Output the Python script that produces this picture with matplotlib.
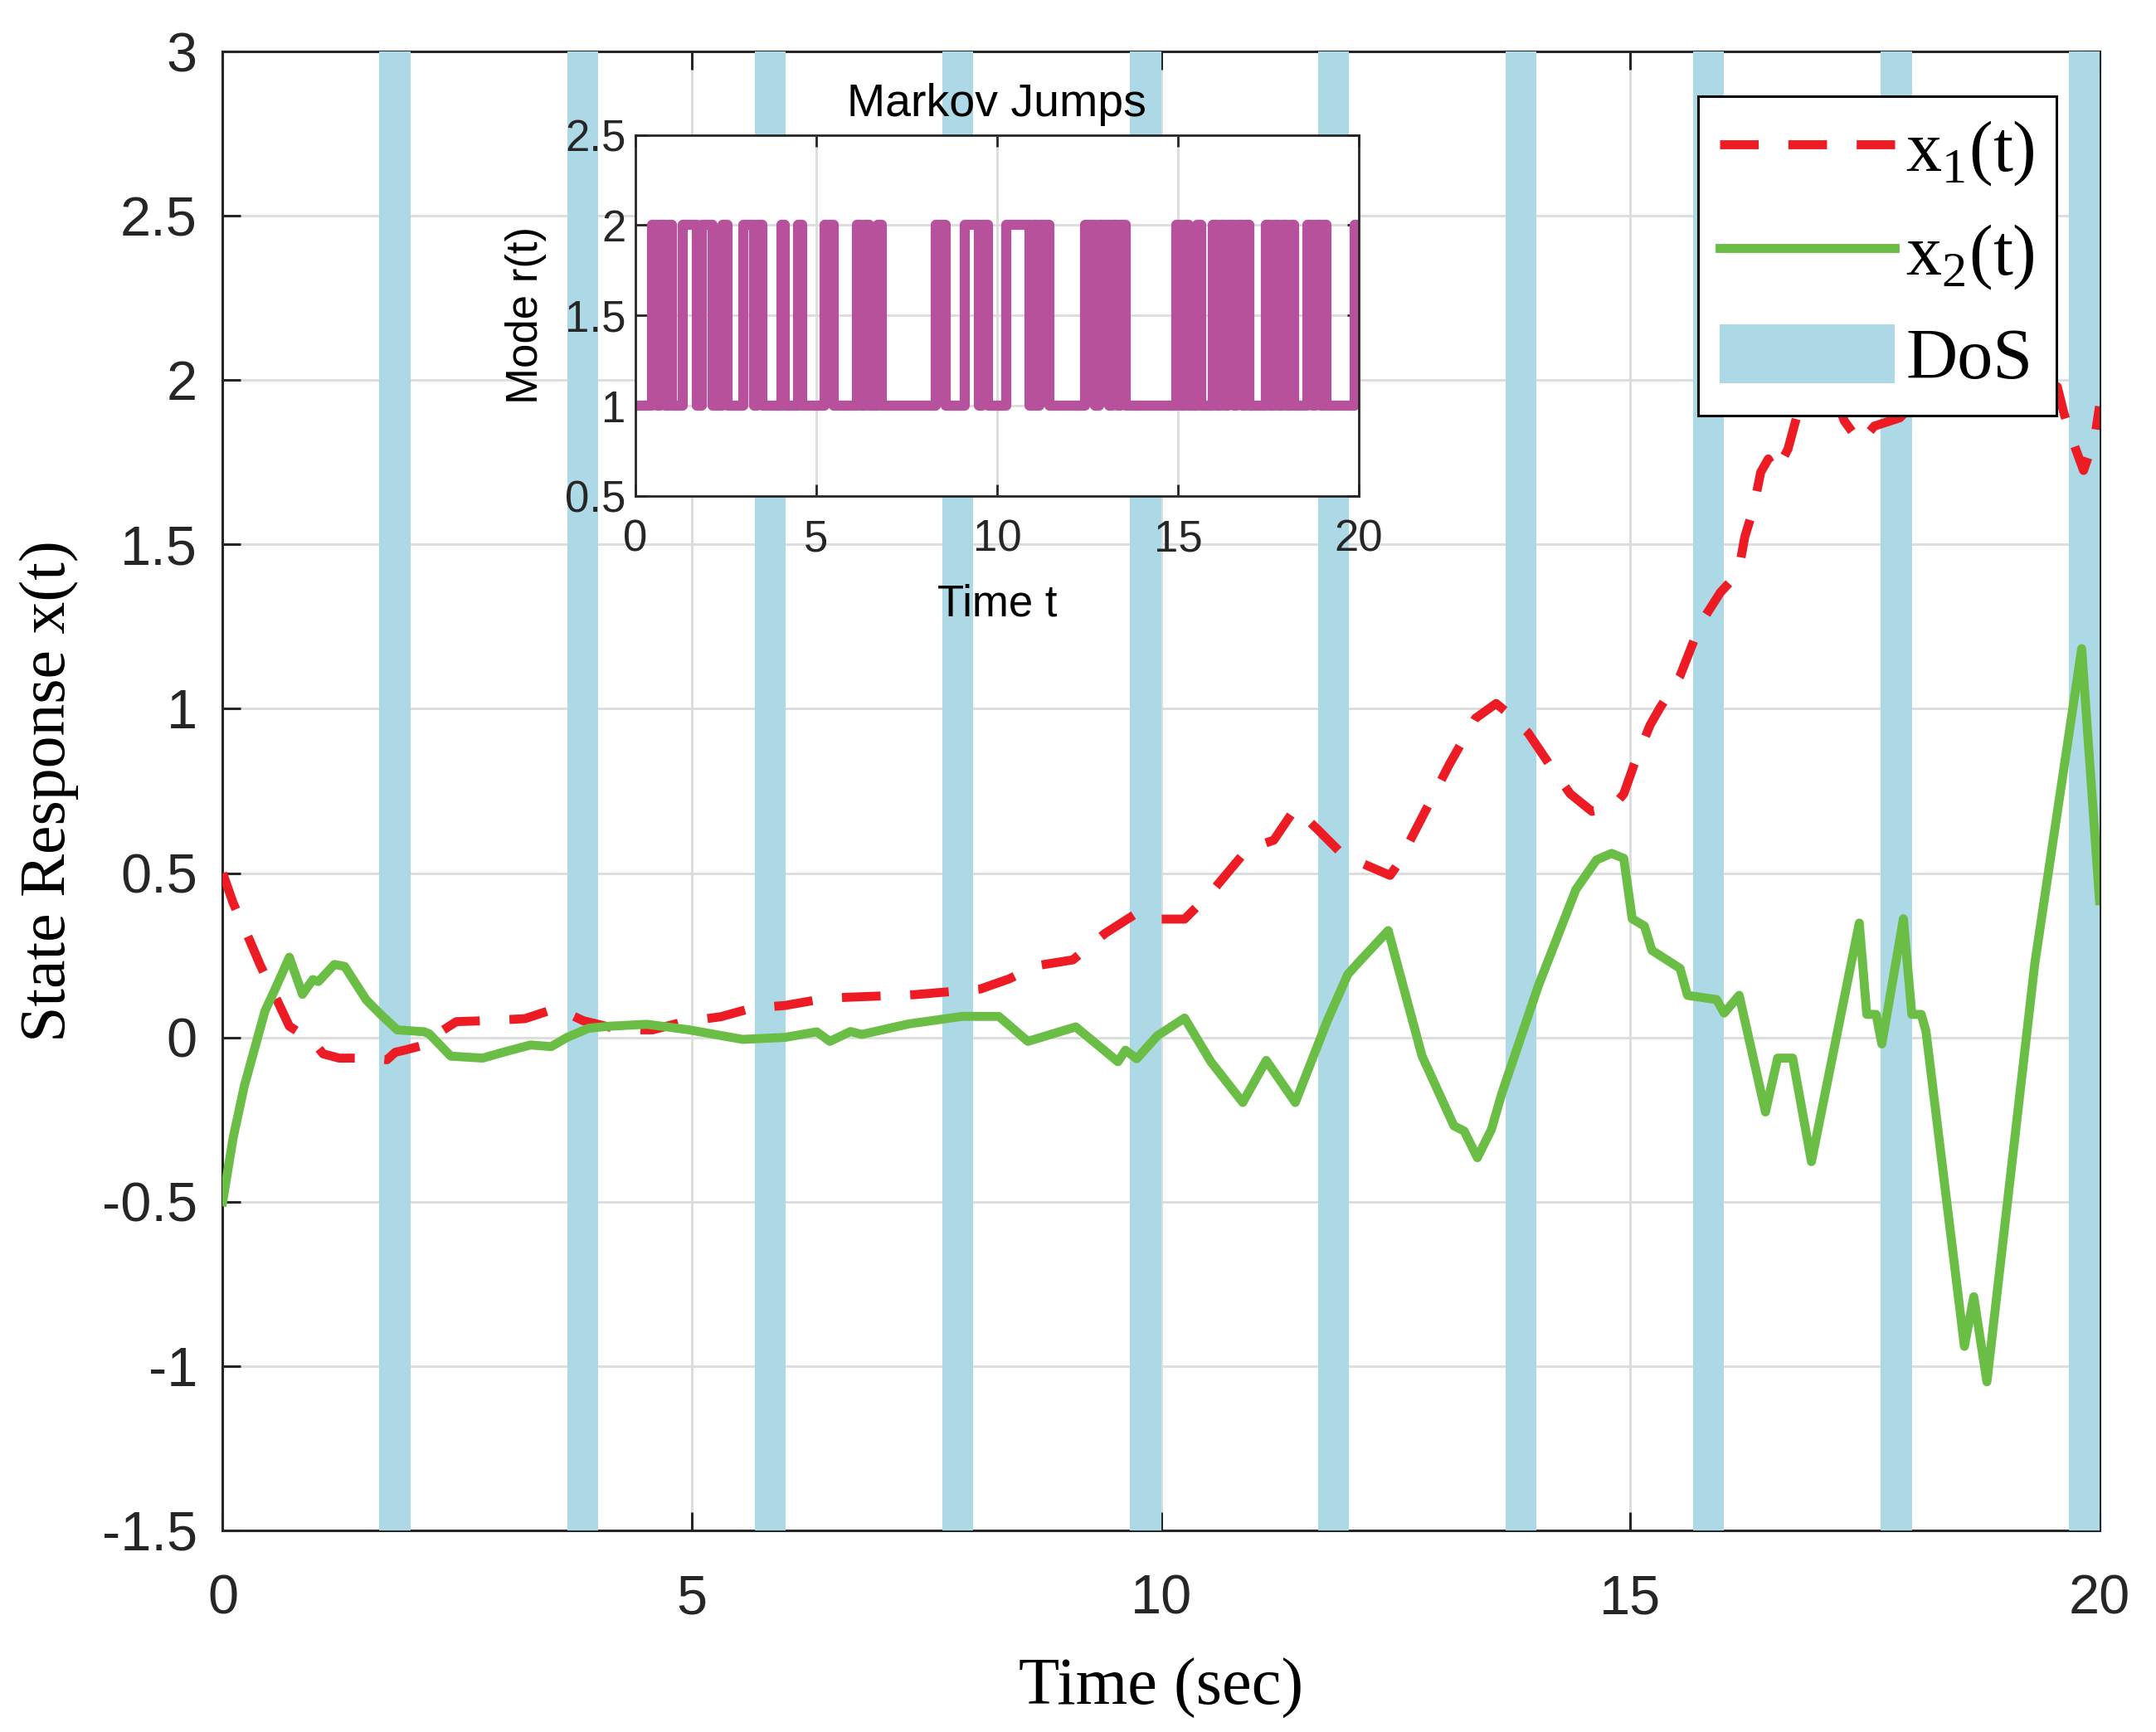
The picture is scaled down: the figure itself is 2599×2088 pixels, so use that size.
import matplotlib
matplotlib.use('Agg')
import matplotlib.pyplot as plt
from matplotlib.lines import Line2D
from matplotlib.patches import Patch
from matplotlib.ticker import FuncFormatter
import numpy as np

# state x1(t)
t_x1 = [0, 0.11, 0.28, 0.40, 0.56, 0.71, 0.96, 1.07, 1.24, 1.58, 1.75, 1.84, 1.92,
        2.15, 2.32, 2.49, 2.82, 3.22, 3.56, 3.84, 4.24, 4.58, 4.92, 5.31, 5.65,
        5.99, 6.33, 6.47, 7.37, 8.07, 8.38, 8.67, 9.06, 9.40, 9.74, 9.94, 10.25,
        10.53, 10.92, 11.20, 11.43, 11.66, 11.94, 12.22, 12.44, 12.53, 12.67,
        13.07, 13.35, 13.57, 13.68, 13.91, 14.14, 14.36, 14.59, 14.81, 14.93,
        15.04, 15.21, 15.31, 15.53, 15.75, 15.96, 16.15, 16.22, 16.31, 16.39,
        16.47, 16.55, 16.68, 16.77, 16.90, 17.05, 17.15, 17.28, 17.45, 17.60,
        17.87, 18.10, 18.50, 19.00, 19.30, 19.55, 19.62, 19.70, 19.83, 19.95, 20.0]
x1 = [0.50, 0.41, 0.30, 0.22, 0.125, 0.034, -0.011, -0.05, -0.063, -0.063, -0.068,
      -0.045, -0.04, -0.023, 0.017, 0.048, 0.051, 0.057, 0.089, 0.051, 0.023,
      0.023, 0.048, 0.063, 0.09, 0.097, 0.114, 0.12, 0.13, 0.147, 0.178, 0.218,
      0.236, 0.316, 0.378, 0.36, 0.36, 0.44, 0.573, 0.60, 0.697, 0.635, 0.555,
      0.52, 0.493, 0.53, 0.608, 0.83, 0.971, 1.016, 0.99, 0.927, 0.83, 0.741,
      0.688, 0.70, 0.741, 0.83, 0.95, 1.0, 1.10, 1.26, 1.354, 1.413, 1.523,
      1.607, 1.72, 1.76, 1.72, 1.79, 1.885, 2.0, 2.05, 1.98, 1.876, 1.809, 1.86,
      1.885, 1.95, 2.02, 2.0, 2.02, 1.98, 1.90, 1.826, 1.725, 1.826, 1.92]

# state x2(t)
t_x2 = [0, 0.11, 0.23, 0.34, 0.45, 0.56, 0.71, 0.85, 0.96, 1.02, 1.19, 1.30, 1.53,
        1.69, 1.86, 2.15, 2.20, 2.43, 2.77, 2.99, 3.28, 3.50, 3.67, 3.90, 4.12,
        4.52, 4.97, 5.54, 5.99, 6.33, 6.47, 6.69, 6.81, 7.31, 7.88, 8.27, 8.58,
        9.09, 9.54, 9.62, 9.74, 9.96, 10.25, 10.53, 10.87, 11.12, 11.43, 11.77,
        11.99, 12.10, 12.42, 12.78, 13.12, 13.23, 13.37, 13.52, 13.63, 14.02,
        14.42, 14.64, 14.80, 14.93, 15.02, 15.15, 15.23, 15.53, 15.61, 15.92,
        16.00, 16.16, 16.44, 16.57, 16.73, 16.93, 17.44, 17.52, 17.62, 17.68,
        17.91, 18.00, 18.10, 18.15, 18.56, 18.66, 18.80, 19.31, 19.81, 20.0]
x2 = [-0.50, -0.307, -0.148, -0.034, 0.08, 0.148, 0.244, 0.131, 0.176, 0.17, 0.222,
      0.216, 0.114, 0.068, 0.023, 0.017, 0.011, -0.057, -0.063, -0.045, -0.023,
      -0.028, 0.0, 0.028, 0.034, 0.040, 0.023, -0.006, 0.0, 0.017, -0.012, 0.018,
      0.009, 0.041, 0.064, 0.064, -0.012, 0.032, -0.074, -0.039, -0.065, 0.005,
      0.059, -0.074, -0.198, -0.07, -0.198, 0.05, 0.192, 0.227, 0.325, -0.056,
      -0.269, -0.285, -0.366, -0.28, -0.171, 0.157, 0.45, 0.54, 0.56, 0.545,
      0.361, 0.339, 0.265, 0.21, 0.128, 0.115, 0.074, 0.128, -0.227, -0.063,
      -0.063, -0.378, 0.348, 0.07, 0.07, -0.02, 0.361, 0.07, 0.07, 0.02, -0.94,
      -0.789, -1.048, 0.224, 1.183, 0.416]

# DoS attack intervals
dos_start = [1.67, 3.67, 5.67, 7.67, 9.67, 11.67, 13.67, 15.67, 17.67, 19.67]
dos_end = [2.0, 4.0, 6.0, 8.0, 10.0, 12.0, 14.0, 16.0, 18.0, 20.0]

# Markov mode switching instants (mode toggles 1 <-> 2, starts at 1)
jump_times = [0.47, 0.59, 0.70, 0.82, 0.93, 1.01, 1.30, 1.70, 1.83, 2.14,
              2.41, 2.54, 2.99, 3.28, 3.38, 3.50, 4.03, 4.14, 4.50, 4.62,
              5.24, 5.48, 6.13, 6.25, 6.36, 6.48, 6.69, 6.82, 8.31, 8.58,
              9.11, 9.50, 9.59, 9.76, 10.26, 10.89, 11.00, 11.10, 11.18, 11.45,
              12.44, 12.71, 12.82, 13.09, 13.20, 13.32, 13.43, 13.55,
              14.96, 15.08, 15.19, 15.31, 15.52, 15.65,
              15.96, 16.07, 16.19, 16.30, 16.41, 16.53, 16.64, 16.76, 16.87, 16.97,
              17.43, 17.55, 17.66, 17.78, 17.89, 18.00, 18.12, 18.21,
              18.59, 18.71, 18.82, 18.94, 19.05, 19.11, 19.88]

red = '#ED1C24'
green = '#6ABD45'
dos_color = '#ADD8E6'
magenta = '#B8519C'
grid_c = '#DCDCDC'
sans = ['Liberation Sans', 'DejaVu Sans']
serif = ['Liberation Serif', 'DejaVu Serif']

plt.rcParams['axes.unicode_minus'] = False
plt.rcParams['font.family'] = sans

fig = plt.figure(figsize=(12.995, 10.44), dpi=200)
ax = fig.add_axes([0.1033, 0.1164, 0.8705, 0.8539])

for a, b in zip(dos_start, dos_end):
    ax.axvspan(a, b, color=dos_color, lw=0, zorder=3)
ax.plot(t_x1, x1, color=red, lw=3.9, dashes=(4.3, 3.3), zorder=4)
ax.plot(t_x2, x2, color=green, lw=3.9, zorder=4)

ax.set_xlim(0, 20)
ax.set_ylim(-1.5, 3)
ax.set_xticks([0, 5, 10, 15, 20])
ax.set_yticks(np.arange(-1.5, 3.01, 0.5))
fmt = FuncFormatter(lambda v, p: '%g' % v)
ax.xaxis.set_major_formatter(fmt)
ax.yaxis.set_major_formatter(fmt)
ax.set_axisbelow(True)
ax.grid(True, color=grid_c, lw=1.0)
ax.tick_params(direction='in', length=8, width=1.1, top=True, right=True,
               labelsize=24, colors='#262626')
ax.tick_params(axis='x', pad=19)
ax.tick_params(axis='y', pad=11)
for s in ax.spines.values():
    s.set_linewidth(1.1)
    s.set_color('#262626')
ax.set_xlabel('Time (sec)', family=serif, fontsize=29, labelpad=14)
ax.set_ylabel('State Response x(t)', family=serif, fontsize=28, labelpad=10)

handles = [Line2D([], [], color=red, lw=3.9, dashes=(4.3, 3.3)),
           Line2D([], [], color=green, lw=3.9),
           Patch(facecolor=dos_color, edgecolor='none')]
labels = [r'x$_\mathregular{1}$(t)', r'x$_\mathregular{2}$(t)', 'DoS']
leg = ax.legend(handles, labels, loc='upper right', bbox_to_anchor=(0.977, 0.970),
                prop={'family': serif, 'size': 31}, fancybox=False,
                edgecolor='black', framealpha=1, handlelength=2.45,
                handleheight=0.9, handletextpad=0.15, borderpad=0.3,
                labelspacing=0.45, borderaxespad=0)
leg.get_frame().set_linewidth(1.1)
leg.set_zorder(6)

# inset with the Markov jumps
axi = fig.add_axes([0.2947, 0.7136, 0.3355, 0.2085])
t_steps = [0] + jump_times + [20]
modes = [1 + (i % 2) for i in range(len(jump_times) + 1)]
modes.append(modes[-1])
axi.plot(t_steps, modes, color=magenta, lw=4.4, drawstyle='steps-post')
axi.set_xlim(0, 20)
axi.set_ylim(0.5, 2.5)
axi.set_xticks([0, 5, 10, 15, 20])
axi.set_yticks([0.5, 1, 1.5, 2, 2.5])
axi.xaxis.set_major_formatter(fmt)
axi.yaxis.set_major_formatter(fmt)
axi.set_axisbelow(True)
axi.grid(True, color=grid_c, lw=1.0)
axi.tick_params(direction='in', length=5, width=1.0, top=True, right=True,
                labelsize=19, colors='#262626')
axi.tick_params(axis='x', pad=10)
axi.tick_params(axis='y', pad=4)
for s in axi.spines.values():
    s.set_linewidth(1.0)
    s.set_color('#262626')
axi.set_title('Markov Jumps', fontsize=20, pad=8)
axi.set_xlabel('Time t', fontsize=19, labelpad=10)
axi.set_ylabel('Mode r(t)', fontsize=19, labelpad=8)

fig.savefig('out.png', dpi=200)
